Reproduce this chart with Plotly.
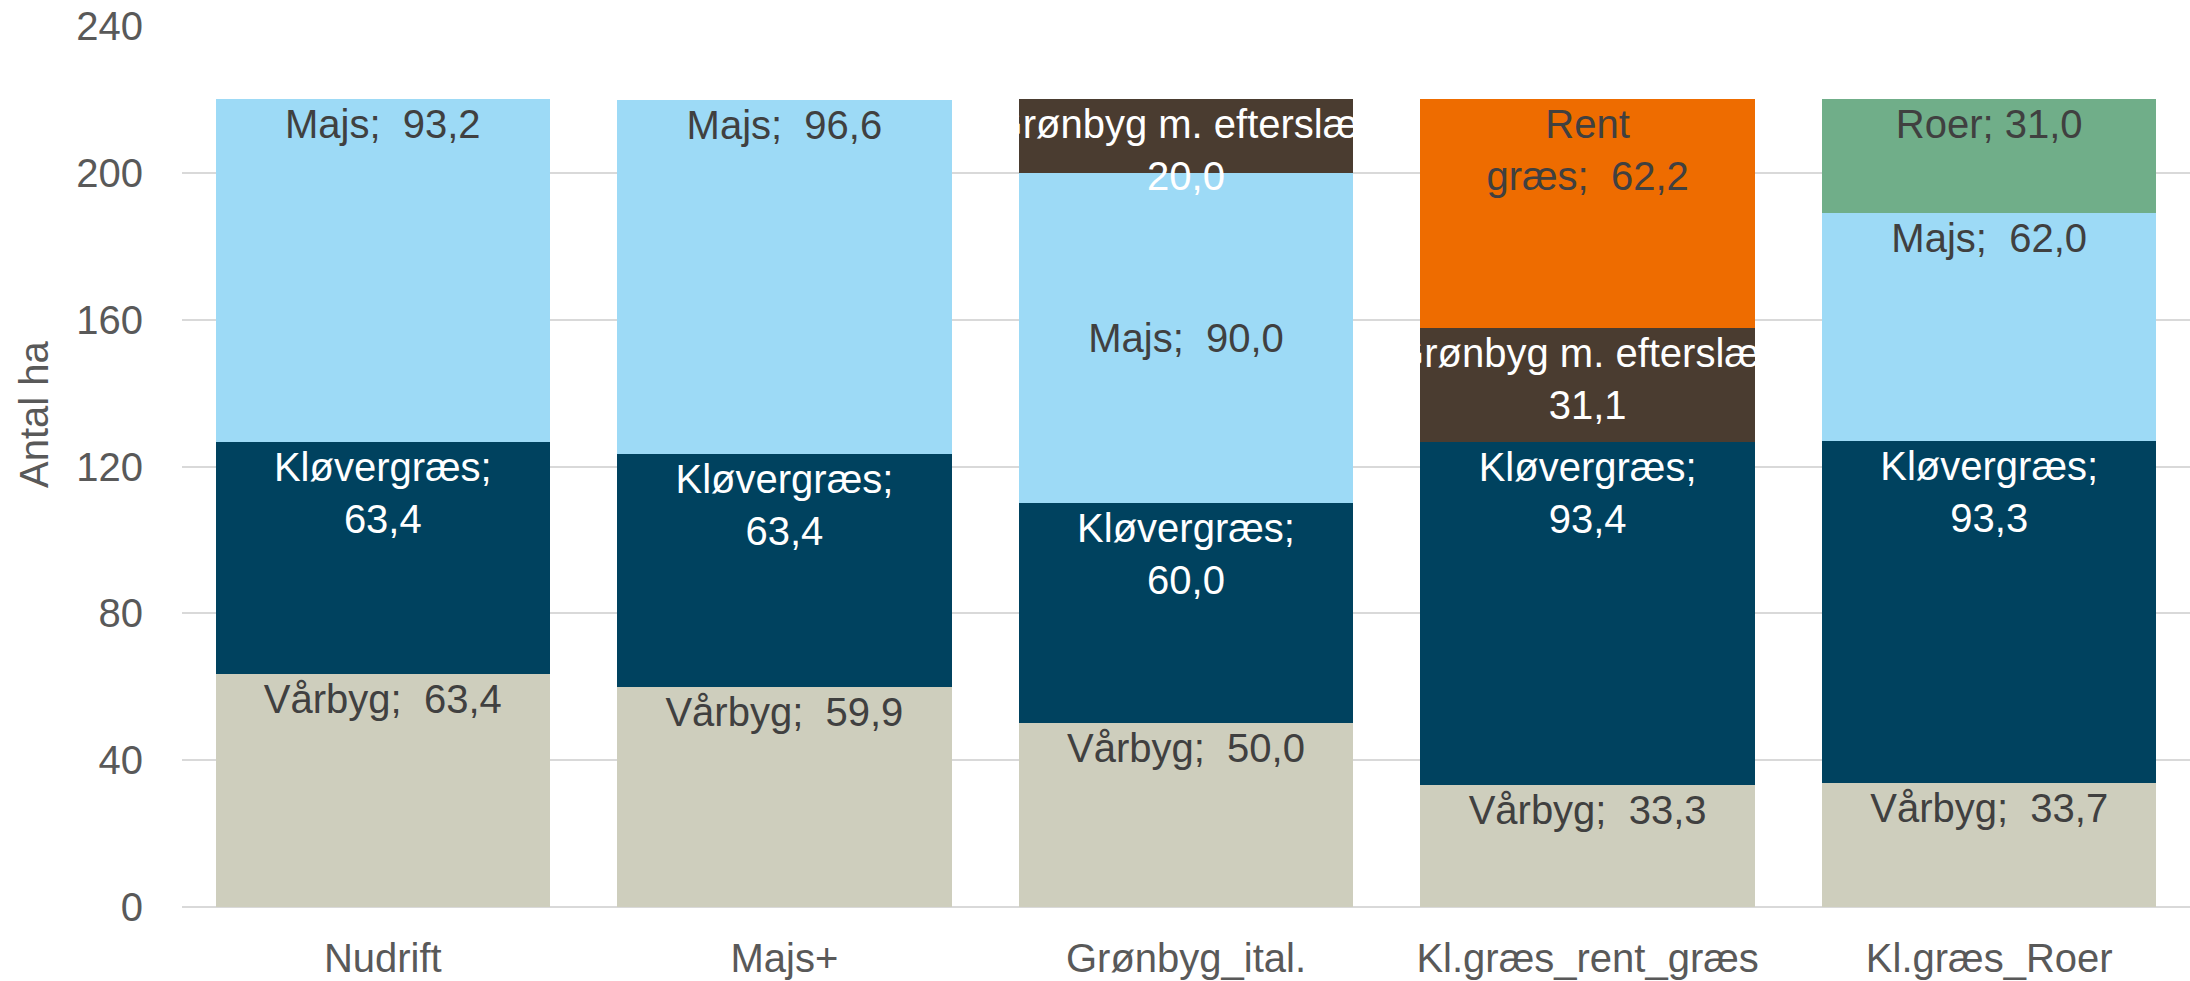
import plotly.graph_objects as go

categories = ["Nudrift", "Majs+", "Grønbyg_ital.", "Kl.græs_rent_græs", "Kl.græs_Roer"]
vaarbyg = [63.4, 59.9, 50.0, 33.3, 33.7]
kloevergraes = [63.4, 63.4, 60.0, 93.4, 93.3]
majs = [93.2, 96.6, 90.0, None, 62.0]
groenbyg = [None, None, 20.0, 31.1, None]
rent_graes = [None, None, None, 62.2, None]
roer = [None, None, None, None, 31.0]

y_ticks = [0, 40, 80, 120, 160, 200, 240]
y_title = "Antal ha"

FONT = "Liberation Sans, Arial, sans-serif"
DARK = "#404040"
WHITE = "#FFFFFF"
GREY = "#595959"


def fmt(v):
    return f"{v:.1f}".replace(".", ",")


series = [
    ("Vårbyg", vaarbyg, "#CECEBD", DARK, "Vårbyg;  {}"),
    ("Kløvergræs", kloevergraes, "#00425F", WHITE, "Kløvergræs;<br>{}"),
    ("Majs", majs, "#9DDAF6", DARK, "Majs;  {}"),
    ("Grønbyg m. efterslæt", groenbyg, "#4A3C30", WHITE, "Grønbyg m. efterslæt;<br>{}"),
    ("Rent græs", rent_graes, "#EE6C00", DARK, "Rent<br>græs;  {}"),
    ("Roer", roer, "#70AE89", DARK, "Roer; {}"),
]

# label of this series/category is moved (dodged) toward segment middle in the original
dodged = {("Majs", "Grønbyg_ital.")}

fig = go.Figure()
for name, vals, color, tcolor, tmpl in series:
    for anchor in ("end", "middle"):
        yv, tx = [], []
        for c, v in zip(categories, vals):
            is_dodged = (name, c) in dodged
            use = (v is not None) and ((anchor == "middle") == is_dodged)
            yv.append(v if use else None)
            tx.append(tmpl.format(fmt(v)) if use else "")
        if all(v is None for v in yv):
            continue
        fig.add_trace(go.Bar(
            x=categories, y=yv, name=name, text=tx,
            textposition="inside", insidetextanchor=anchor, textangle=0,
            textfont=dict(family=FONT, size=40, color=tcolor),
            marker=dict(color=color, line=dict(width=0)),
            showlegend=False, cliponaxis=False, hoverinfo="skip",
        ))

fig.update_layout(
    barmode="stack",
    bargap=0.167,
    width=2190, height=981,
    margin=dict(l=182, r=0, t=26, b=74),
    paper_bgcolor="white", plot_bgcolor="white",
    font=dict(family=FONT, size=40, color=GREY),
    uniformtext=dict(minsize=40, mode="show"),
    showlegend=False,
)
fig.update_yaxes(
    range=[0, 240], tickvals=y_ticks, ticktext=[str(t) for t in y_ticks],
    showgrid=True, gridcolor="#D9D9D9", gridwidth=2,
    zeroline=True, zerolinecolor="#D9D9D9", zerolinewidth=2,
    showline=False, ticks="", ticklabelstandoff=38,
    tickfont=dict(family=FONT, size=40, color=GREY),
)
fig.update_xaxes(
    showgrid=False, showline=False, ticks="", ticklabelstandoff=24,
    tickfont=dict(family=FONT, size=40, color=GREY),
)
fig.add_annotation(
    text=y_title, textangle=-90, xref="paper", yref="paper",
    x=-0.074, y=0.56, xanchor="center", yanchor="middle", showarrow=False,
    font=dict(family=FONT, size=40, color=GREY),
)

fig.write_html(
    "out.html",
    config={"displayModeBar": False},
    post_script="document.body.style.margin='0';document.body.style.overflow='hidden';",
)
